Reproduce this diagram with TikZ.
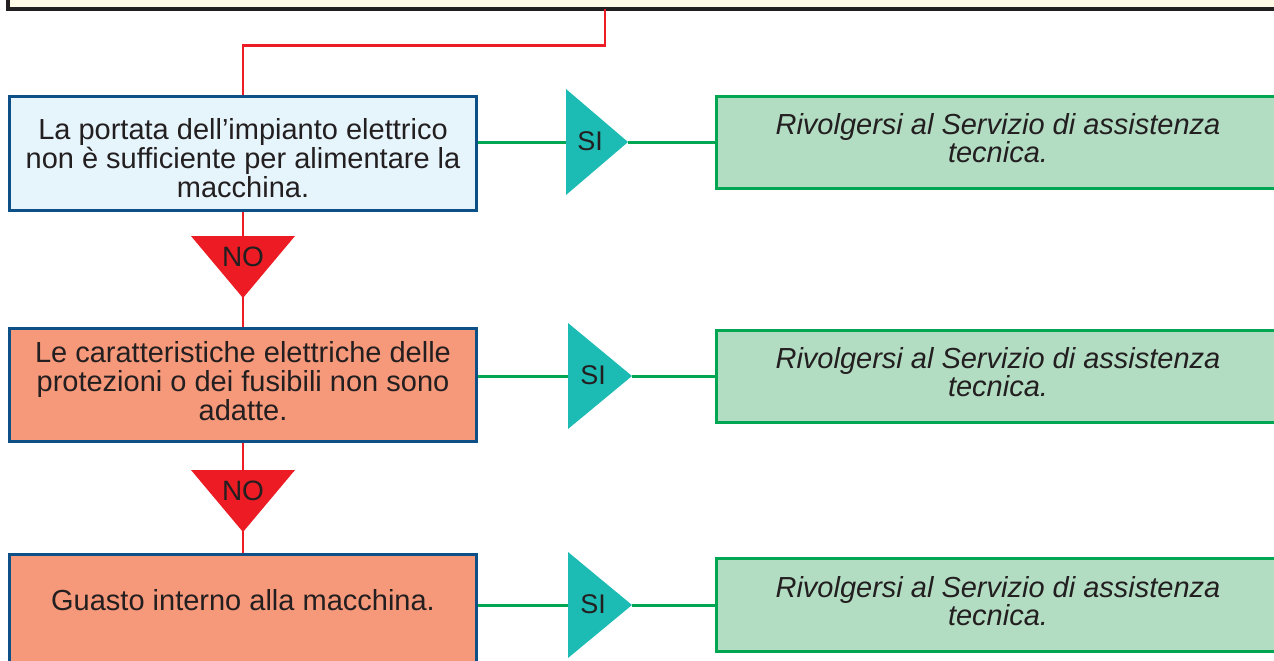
\documentclass[tikz,border=0pt]{standalone}
\usepackage{fontspec}
\setmainfont{Liberation Sans}
\definecolor{ink}{HTML}{231F20}
\definecolor{cream}{HTML}{FFF9E6}
\definecolor{redc}{HTML}{ED1C24}
\definecolor{lightblue}{HTML}{E6F4FB}
\definecolor{boxblue}{HTML}{0D5087}
\definecolor{salmon}{HTML}{F6987A}
\definecolor{tealc}{HTML}{1CBBB4}
\definecolor{greenc}{HTML}{00A651}
\definecolor{greenfill}{HTML}{B3DDC3}
\begin{document}
\begin{tikzpicture}[x=1pt,y=-1pt,
  boxtext/.style={font=\fontsize{29}{29.2}\selectfont, text=ink, align=center, inner sep=0pt},
  gtext/.style={font=\fontsize{29}{28.5}\selectfont\itshape, text=ink, align=center, inner sep=0pt},
  tritext/.style={font=\fontsize{27}{28}\selectfont, text=ink, inner sep=0pt},
  notext/.style={font=\fontsize{28}{28}\selectfont, text=ink, inner sep=0pt},
  topbox/.style={draw=ink, fill=cream, line width=4pt, inner sep=0pt},
  bluebox/.style={draw=boxblue, fill=lightblue, line width=3pt, inner sep=0pt, minimum width=467pt},
  salbox/.style={draw=boxblue, fill=salmon, line width=3pt, inner sep=0pt, minimum width=467pt},
  gbox/.style={draw=greenc, fill=greenfill, line width=3pt, inner sep=0pt, minimum width=574pt},
  redline/.style={draw=redc, line width=2.6pt},
  greenline/.style={draw=greenc, line width=3pt},
  notri/.style={fill=redc},
  sitri/.style={fill=tealc}
]
\useasboundingbox (0,0) rectangle (1274,661);
\clip (0,0) rectangle (1274,661);

% top box (cut off)
\node[topbox, minimum width=1292pt, minimum height=39pt] (top) at (654,-10.5) {};
\coordinate (topout) at (605,9);

% left column boxes
\node[bluebox, minimum height=114pt] (b1) at (243,153.5) {};
\node[salbox, minimum height=113pt] (b2) at (243,384.5) {};
\node[salbox, minimum height=160pt] (b3) at (243,634) {};

% green boxes
\node[gbox, minimum height=92pt] (g1) at (1003,142) {};
\node[gbox, minimum height=92pt] (g2) at (1003,376) {};
\node[gbox, minimum height=93pt] (g3) at (1003,604.5) {};

% red connectors
\draw[redline] (topout) -- ++(0,36.5) -| (b1.north);
\draw[redline] (b1.south) -- (b2.north);
\draw[redline] (b2.south) -- (b3.north);

% SI triangle coordinates
\coordinate (si1w) at (566,142); \coordinate (si1e) at (628,142);
\coordinate (si2w) at (568,376); \coordinate (si2e) at (632,376);
\coordinate (si3w) at (568,605); \coordinate (si3e) at (632,605);

% green connectors
\draw[greenline] (b1.east |- si1w) -- (si1w);
\draw[greenline] (si1e) -- (g1.west |- si1e);
\draw[greenline] (b2.east |- si2w) -- (si2w);
\draw[greenline] (si2e) -- (g2.west |- si2e);
\draw[greenline] (b3.east |- si3w) -- (si3w);
\draw[greenline] (si3e) -- (g3.west |- si3e);

% redraw box borders over line ends
\node[bluebox, minimum height=114pt] at (b1) {};
\node[salbox, minimum height=113pt] at (b2) {};
\node[salbox, minimum height=160pt] at (b3) {};
\node[gbox, minimum height=92pt] at (g1) {};
\node[gbox, minimum height=92pt] at (g2) {};
\node[gbox, minimum height=93pt] at (g3) {};

% NO triangles
\fill[notri] (191,236) -- (295,236) -- (243,298) -- cycle;
\node[notext] (no1) at (243,257) {NO};
\fill[notri] (191,470) -- (295,470) -- (243,532) -- cycle;
\node[notext] (no2) at (243,491) {NO};

% SI triangles
\fill[sitri] (566,89) -- (566,195) -- (si1e) -- cycle;
\node[tritext] (sit1) at (590,141) {SI};
\fill[sitri] (568,323) -- (568,429) -- (si2e) -- cycle;
\node[tritext] (sit2) at (593,375) {SI};
\fill[sitri] (568,552) -- (568,658) -- (si3e) -- cycle;
\node[tritext] (sit3) at (593,604) {SI};

% texts
\node[boxtext] (t1) at (243,158) {La portata dell’impianto elettrico\\non è sufficiente per alimentare la\\macchina.};
\node[boxtext] (t2) at (243,381) {Le caratteristiche elettriche delle\\protezioni o dei fusibili non sono\\adatte.};
\node[boxtext] (t3) at (243,600) {Guasto interno alla macchina.};
\node[gtext] (gt1) at (998,138) {Rivolgersi al Servizio di assistenza\\tecnica.};
\node[gtext] (gt2) at (998,372) {Rivolgersi al Servizio di assistenza\\tecnica.};
\node[gtext] (gt3) at (998,601) {Rivolgersi al Servizio di assistenza\\tecnica.};
\end{tikzpicture}
\end{document}
